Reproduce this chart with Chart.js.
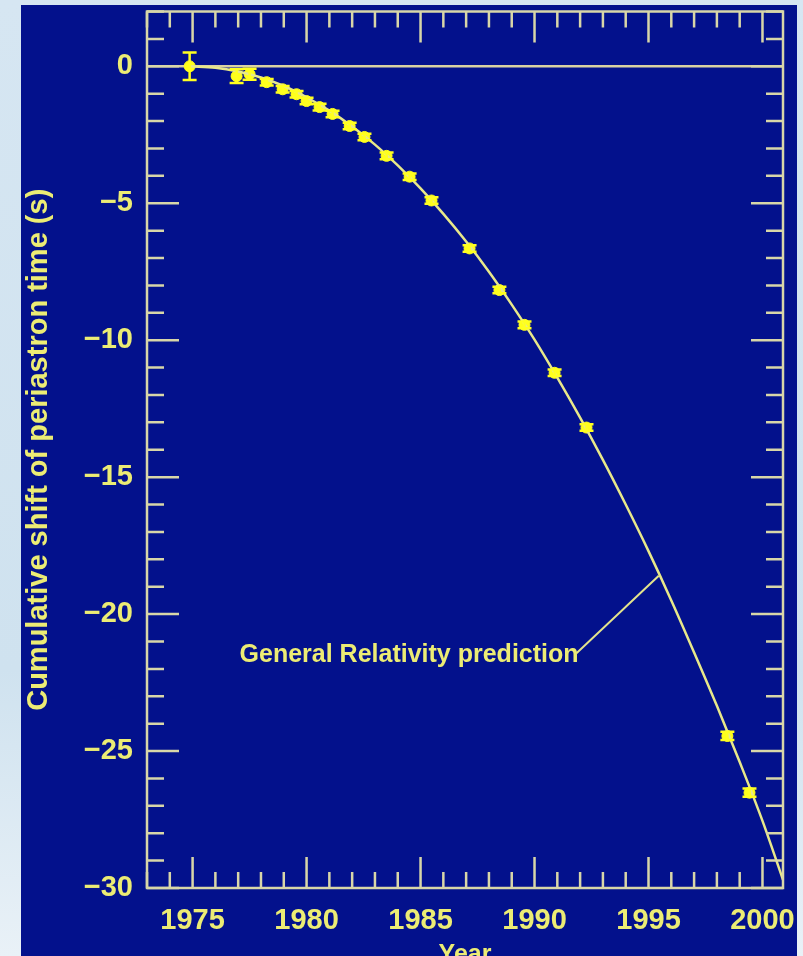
<!DOCTYPE html>
<html>
<head>
<meta charset="utf-8">
<script src="https://cdn.jsdelivr.net/npm/chart.js@4/dist/chart.umd.min.js"></script>
<style>
  html, body { margin: 0; padding: 0; width: 803px; height: 956px; overflow: hidden; }
  body { background: linear-gradient(180deg, #d6e6f2 0%, #cfe2ef 70%, #e9f1f7 100%); }
  #wrap { position: absolute; left: 21px; top: 5px; width: 776px; height: 951px; overflow: hidden; background: #03118c; }
  canvas { display: block; }
</style>
</head>
<body>
<div id="wrap"><canvas id="c" width="776" height="975"></canvas></div>
<script>
// measured points (year, cumulative shift in s, error)
const years  = [1974.87, 1976.93, 1977.5, 1978.25, 1978.95, 1979.56, 1980.0, 1980.57, 1981.14, 1981.89,
                1982.54, 1983.51, 1984.52, 1985.48, 1987.15, 1988.46, 1989.56, 1990.88, 1992.28, 1998.46, 1999.43];
const shifts = [0.0, -0.36, -0.29, -0.58, -0.84, -1.02, -1.27, -1.49, -1.74, -2.18,
                -2.58, -3.27, -4.03, -4.90, -6.65, -8.17, -9.44, -11.19, -13.19, -24.45, -26.52];
const errs   = [0.5, 0.25, 0.2, 0.12, 0.12, 0.12, 0.12, 0.12, 0.12, 0.12,
                0.12, 0.12, 0.12, 0.12, 0.12, 0.12, 0.12, 0.12, 0.12, 0.15, 0.15];

// General Relativity prediction curve
const curveYears = [1974.9, 1976, 1977, 1978, 1979, 1980, 1981, 1982, 1983, 1984, 1985, 1986, 1987, 1988,
                    1989, 1990, 1991, 1992, 1993, 1994, 1995, 1996, 1997, 1998, 1999, 2000, 2000.9];
const curveShift = [0, -0.05, -0.19, -0.41, -0.72, -1.13, -1.62, -2.2, -2.86, -3.62, -4.46, -5.39, -6.4, -7.5,
                    -8.7, -9.98, -11.37, -12.83, -14.37, -16.0, -17.7, -19.5, -21.4, -23.35, -25.4, -27.55, -29.7];

const xLabels = [1975, 1980, 1985, 1990, 1995, 2000];
const yLabels = [0, -5, -10, -15, -20, -25, -30];

const label = { text: 'General Relativity prediction', x: 1977.06, y: -21.5 };
const leader = { x: [1991.84, 1995.45], y: [-21.43, -18.6] };

const TXT = '#ecec74';
const AXC = '#d8d6a8';

const frame = {
    id: 'frame',
    beforeDatasetsDraw(chart) {
        const { ctx, chartArea: a, scales: { x, y } } = chart;
        ctx.save();
        // zero line
        ctx.strokeStyle = '#d9d2a2'; ctx.lineWidth = 2.5;
        ctx.beginPath(); ctx.moveTo(a.left, y.getPixelForValue(0)); ctx.lineTo(a.right, y.getPixelForValue(0)); ctx.stroke();
        // leader line + label
        ctx.strokeStyle = '#e4e48c'; ctx.lineWidth = 2;
        ctx.beginPath();
        ctx.moveTo(x.getPixelForValue(leader.x[0]), y.getPixelForValue(leader.y[0]));
        ctx.lineTo(x.getPixelForValue(leader.x[1]), y.getPixelForValue(leader.y[1]));
        ctx.stroke();
        ctx.fillStyle = TXT; ctx.font = 'bold 25px "Liberation Sans"';
        ctx.textAlign = 'left'; ctx.textBaseline = 'middle';
        ctx.fillText(label.text, x.getPixelForValue(label.x), y.getPixelForValue(label.y));
        ctx.restore();
    },
    afterDraw(chart) {
        const { ctx, chartArea: a, scales: { x, y } } = chart;
        ctx.save();
        ctx.strokeStyle = AXC; ctx.lineWidth = 2.5;
        ctx.strokeRect(a.left, a.top, a.right - a.left, a.bottom - a.top);
        ctx.beginPath();
        for (let v = Math.ceil(x.min); v <= x.max; v++) {
            const px = x.getPixelForValue(v), len = v % 5 === 0 ? 31 : 16;
            ctx.moveTo(px, a.bottom); ctx.lineTo(px, a.bottom - len);
            ctx.moveTo(px, a.top); ctx.lineTo(px, a.top + len);
        }
        for (let v = Math.ceil(y.min); v <= y.max; v++) {
            const py = y.getPixelForValue(v), len = v % 5 === 0 ? 32 : 17;
            ctx.moveTo(a.left, py); ctx.lineTo(a.left + len, py);
            ctx.moveTo(a.right, py); ctx.lineTo(a.right - len, py);
        }
        ctx.stroke();
        ctx.restore();
    }
};

const errorBars = {
    id: 'errorBars',
    afterDatasetsDraw(chart) {
        const { ctx, scales: { x, y } } = chart;
        ctx.save();
        ctx.strokeStyle = '#ffff20'; ctx.lineWidth = 2.5;
        years.forEach((yr, i) => {
            const px = x.getPixelForValue(yr);
            const top = y.getPixelForValue(shifts[i] + errs[i]);
            const bot = y.getPixelForValue(shifts[i] - errs[i]);
            ctx.beginPath();
            ctx.moveTo(px, top); ctx.lineTo(px, bot);
            ctx.moveTo(px - 7, top); ctx.lineTo(px + 7, top);
            ctx.moveTo(px - 7, bot); ctx.lineTo(px + 7, bot);
            ctx.stroke();
        });
        ctx.restore();
    }
};

new Chart(document.getElementById('c'), {
    type: 'scatter',
    data: {
        datasets: [
            {
                type: 'line',
                data: curveYears.map((v, i) => ({ x: v, y: curveShift[i] })),
                borderColor: '#e8e88a', borderWidth: 2.5, pointRadius: 0,
                cubicInterpolationMode: 'monotone', fill: false
            },
            {
                data: years.map((v, i) => ({ x: v, y: shifts[i] })),
                backgroundColor: '#ffff1a', borderColor: '#ffff1a',
                pointRadius: 5.5, pointStyle: 'circle'
            }
        ]
    },
    options: {
        responsive: false,
        devicePixelRatio: 1,
        animation: false,
        layout: { padding: { top: 2, right: 14, left: 0, bottom: 0 } },
        plugins: { legend: { display: false }, tooltip: { enabled: false } },
        scales: {
            x: {
                type: 'linear', min: 1973, max: 2000.9,
                afterBuildTicks: s => { s.ticks = xLabels.map(v => ({ value: v })); },
                afterFit: s => { s.height = 92; s.paddingLeft = 0; s.paddingRight = 0; },
                grid: { display: false, drawTicks: false },
                border: { display: false },
                ticks: { color: TXT, font: { family: 'Liberation Sans', size: 29, weight: 'bold' }, padding: 16,
                         maxRotation: 0, autoSkip: false, callback: v => String(v) },
                title: { display: true, text: 'Year', color: TXT, font: { family: 'Liberation Sans', size: 25, weight: 'bold' },
                         padding: { top: 0, bottom: 10 } }
            },
            y: {
                type: 'linear', min: -30, max: 2,
                afterBuildTicks: s => { s.ticks = yLabels.map(v => ({ value: v })); },
                afterFit: s => { s.width = 126; s.paddingTop = 0; s.paddingBottom = 0; },
                grid: { display: false, drawTicks: false },
                border: { display: false },
                ticks: { color: TXT, font: { family: 'Liberation Sans', size: 29, weight: 'bold' }, padding: 14,
                         autoSkip: false, callback: v => v === 0 ? '0' : '\u2212' + Math.abs(v) },
                title: { display: true, text: 'Cumulative shift of periastron time (s)', color: TXT,
                         font: { family: 'Liberation Sans', size: 29, weight: 'bold' }, padding: { top: 1, bottom: 0 } }
            }
        }
    },
    plugins: [frame, errorBars]
});
</script>
</body>
</html>
